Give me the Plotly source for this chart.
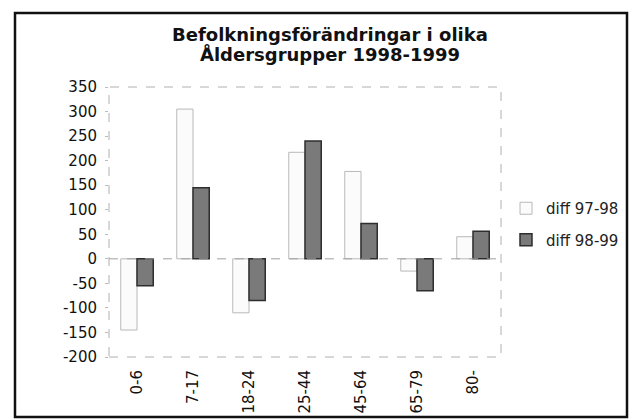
import plotly.graph_objects as go

categories = ["0-6", "7-17", "18-24", "25-44", "45-64", "65-79", "80-"]
diff_97_98 = [-145, 305, -110, 217, 178, -25, 45]
diff_98_99 = [-55, 145, -85, 240, 72, -65, 56]
y_ticks = [350, 300, 250, 200, 150, 100, 50, 0, -50, -100, -150, -200]
title_lines = ["Befolkningsförändringar i olika", "Åldersgrupper 1998-1999"]

FONT = "DejaVu Sans, Arial, sans-serif"

W, H = 632, 419
L, R, T, B = 109, 131, 87, 62
PW, PH = W - L - R, H - T - B


def px_x(v):
    return (v - L) / PW


def px_y(v):
    return (H - B - v) / PH


fig = go.Figure()
fig.add_trace(go.Bar(
    x=categories, y=diff_97_98, name="diff 97-98", legendgroup="a",
    marker=dict(color="#fbfbfb", line=dict(color="#b8b8b8", width=1)),
))
fig.add_trace(go.Bar(
    x=categories, y=diff_98_99, name="diff 98-99", legendgroup="b",
    marker=dict(color="#7a7a7a", line=dict(color="#2e2e2e", width=1.5)),
))

title_tops = [22, 41]
annotations = [
    dict(
        text="<b>" + line + "</b>",
        xref="paper", yref="paper", x=px_x(330), y=px_y(top),
        xanchor="center", yanchor="top", showarrow=False, align="center",
        font=dict(family=FONT, size=18, color="#111"),
    )
    for line, top in zip(title_lines, title_tops)
]

fig.update_layout(
    width=W, height=H,
    margin=dict(l=L, r=R, t=T, b=B, autoexpand=False),
    paper_bgcolor="white", plot_bgcolor="white",
    barmode="group", bargap=0.42, bargroupgap=0.0,
    font=dict(family=FONT, size=15, color="#111"),
    showlegend=True,
    legend=dict(
        x=px_x(506), xanchor="left", y=px_y(224), yanchor="middle",
        font=dict(family=FONT, size=15, color="#222"),
        tracegroupgap=9, bgcolor="rgba(0,0,0,0)", itemwidth=30,
    ),
    xaxis=dict(
        tickangle=-90, showgrid=False, zeroline=False, showline=False,
        tickfont=dict(family=FONT, size=15), automargin=False,
        ticks="", ticklabelstandoff=9,
    ),
    yaxis=dict(
        range=[-200, 350], tickvals=y_ticks, ticktext=[str(v) for v in y_ticks],
        showgrid=False, zeroline=False, showline=False, automargin=False,
        ticks="outside", ticklen=3, tickcolor="#bbb",
        ticklabelstandoff=5,
        tickfont=dict(family=FONT, size=15),
    ),
    annotations=annotations,
    shapes=[
        dict(type="rect", xref="x domain", yref="y domain", x0=0, x1=1, y0=0, y1=1,
             line=dict(color="#b0b0b0", width=1, dash="dash"), layer="below"),
        dict(type="line", xref="x domain", yref="y", x0=0, x1=1, y0=0, y1=0,
             line=dict(color="#a0a0a0", width=1, dash="dash"), layer="above"),
        dict(type="rect", xref="paper", yref="paper",
             x0=px_x(15), x1=px_x(627), y0=px_y(417), y1=px_y(13),
             line=dict(color="#111", width=2.5)),
    ],
)

fig.write_html(
    "out.html",
    config={"displayModeBar": False},
    post_script="document.body.style.margin='0px';document.body.style.overflow='hidden';",
)
